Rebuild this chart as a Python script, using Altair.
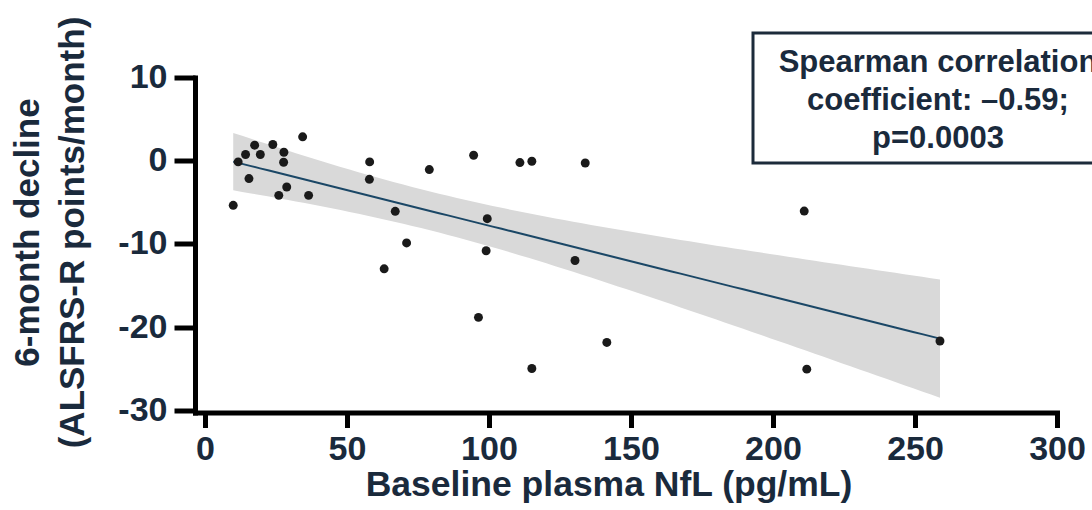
import altair as alt
import numpy as np
import pandas as pd

# ---- data ----
nfl = [9.96, 11.7, 14.3, 15.5, 17.5, 19.5, 23.9, 26.0, 27.8, 27.7, 28.8, 34.4, 36.5,
       58.0, 57.9, 67.0, 71.0, 63.1, 79.0, 94.6, 96.3, 99.4, 99.0, 110.9, 115.1, 115.1,
       130.3, 133.9, 141.5, 211.0, 211.9, 258.8]
decline = [-5.36, -0.14, 0.75, -2.14, 1.87, 0.75, 1.95, -4.16, 1.02, -0.18, -3.16, 2.87, -4.16,
           -0.14, -2.23, -6.08, -9.88, -12.99, -1.06, 0.66, -18.82, -6.96, -10.82, -0.22, -0.06, -24.96,
           -11.99, -0.27, -21.83, -6.05, -25.04, -21.66]
x_ticks = [0, 50, 100, 150, 200, 250, 300]
y_ticks = [-30, -20, -10, 0, 10]
annotation_lines = ["Spearman correlation", "coefficient: \u20130.59;", "p=0.0003"]
x_title = "Baseline plasma NfL (pg/mL)"
y_title = ["6-month decline", "(ALSFRS-R points/month)"]
T_CRIT = 2.042  # t(0.975, df=30)

# ---- linear fit with 95% confidence band, derived from the points ----
xa = np.array(nfl)
ya = np.array(decline)
n = len(xa)
slope, intercept = np.polyfit(xa, ya, 1)
resid = ya - (slope * xa + intercept)
s = np.sqrt((resid ** 2).sum() / (n - 2))
sxx = ((xa - xa.mean()) ** 2).sum()
grid = np.linspace(xa.min(), xa.max(), 80)
fit = intercept + slope * grid
half = T_CRIT * s * np.sqrt(1.0 / n + (grid - xa.mean()) ** 2 / sxx)

pts = pd.DataFrame({"nfl": nfl, "val": decline})
band = pd.DataFrame({"nfl": grid, "val": fit, "lo": fit - half, "hi": fit + half})

TXT = "#1a2a3c"
FONT = "Liberation Sans"

x_enc = alt.X(
    "nfl:Q",
    scale=alt.Scale(domain=[-3.5, 300], nice=False, zero=False),
    axis=alt.Axis(
        values=x_ticks, title=x_title, grid=False,
        labelFlush=False, labelOverlap=False,
        tickSize=15, labelPadding=5,
        titleX=413.5, titleY=82.5, titleBaseline="alphabetic", titleAlign="center",
        titleFontSize=35.5,
    ),
)


def y_enc(field="val"):
    return alt.Y(
        f"{field}:Q",
        scale=alt.Scale(domain=[-30.25, 10], nice=False, zero=False),
        axis=alt.Axis(
            values=y_ticks, title=y_title, grid=False,
            labelFlush=False, labelOverlap=False,
            labelExpr="'' + datum.value",
            tickSize=21, labelPadding=7,
            titleAngle=270, titleX=-157, titleY=154.5,
            titleBaseline="alphabetic", titleAlign="center", titleLineHeight=45,
        ),
    )


area = alt.Chart(band).mark_area(color="#d9d9d9", opacity=1).encode(
    x=x_enc, y=y_enc("lo"), y2="hi:Q"
)
line = alt.Chart(band).mark_line(color="#1b4766", strokeWidth=2).encode(
    x=x_enc, y=y_enc("val")
)
points = alt.Chart(pts).mark_circle(size=80, color="#1a1a1a", opacity=1).encode(
    x=x_enc, y=y_enc("val")
)

one = pd.DataFrame({"k": [0]})
box = alt.Chart(one).mark_rect(fill="white", stroke="#1c2b3b", strokeWidth=3).encode(
    x=alt.value(558), x2=alt.value(928), y=alt.value(-44.5), y2=alt.value(85.5)
)
note = alt.Chart(one).mark_text(
    font=FONT, fontWeight="bold", fontSize=31, color=TXT,
    align="center", baseline="alphabetic", lineHeight=38,
).encode(x=alt.value(743), y=alt.value(-5.5), text=alt.value(annotation_lines))

chart = alt.layer(area, line, points, box, note).properties(
    width=862, height=335,
    autosize=alt.AutoSizeParams(type="none"),
    padding={"left": 195, "top": 77.5, "right": 35, "bottom": 97.5},
    background="white",
).configure_view(stroke=None).configure_axis(
    domainColor="black", domainWidth=5, domainCap="square",
    tickColor="black", tickWidth=5,
    labelFont=FONT, labelFontWeight="bold", labelFontSize=34, labelColor=TXT,
    titleFont=FONT, titleFontWeight="bold", titleFontSize=35, titleColor=TXT,
)

chart.save("out.html", embed_options={"renderer": "svg", "actions": False})
